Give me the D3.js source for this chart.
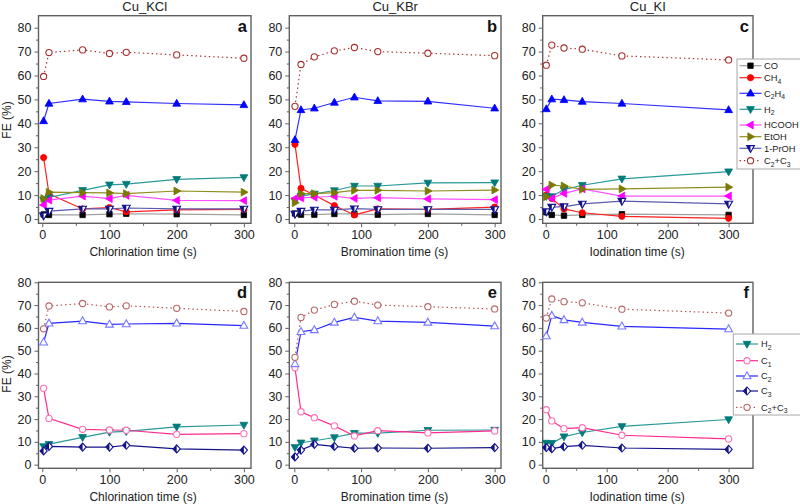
<!DOCTYPE html>
<html><head><meta charset="utf-8">
<script src="https://cdn.jsdelivr.net/npm/d3@7"></script>
<style>body{margin:0;background:#fff}svg{display:block;font-family:"Liberation Sans",Arial,sans-serif}</style>
</head><body><svg id="chart" width="800" height="504"></svg>
<script>
// ---------- data ----------
const panelTitles = ["Cu_KCl", "Cu_KBr", "Cu_KI"];
const xTitles = ["Chlorination time (s)", "Bromination time (s)", "Iodination time (s)"];
const letters = [["a","b","c"],["d","e","f"]];
const xTicks = [0, 100, 200, 300];
const yTicks = [0, 10, 20, 30, 40, 50, 60, 70, 80];

const timeKCl = [2, 10, 60, 100, 125, 200, 300];
const timeKBr = [1, 10, 30, 60, 90, 125, 200, 300];
const timeKI  = [1, 10, 30, 60, 125, 300];

// Cu_KCl
const CO_KCl    = [1.9, 1.7, 1.7, 2.0, 2.2, 2.0, 1.7];
const CH4_KCl   = [25.7, 10.5, 4.2, 4.8, 3.0, 3.8, 4.0];
const C2H4_KCl  = [41.0, 48.3, 50.1, 49.2, 49.0, 48.3, 47.7];
const H2_KCl    = [8.0, 9.0, 12.0, 14.3, 14.6, 16.6, 17.4];
const HCOOH_KCl = [5.9, 7.9, 9.6, 8.5, 9.9, 7.8, 7.7];
const EtOH_KCl  = [8.6, 11.2, 11.0, 10.9, 10.6, 11.7, 11.2];
const PrOH_KCl  = [1.4, 3.3, 4.2, 4.2, 4.6, 4.2, 4.2];
const C2C3_KCl  = [59.6, 69.6, 70.7, 69.2, 69.7, 68.6, 67.2];
const C1_KCl    = [33.5, 20.3, 15.5, 15.2, 15.1, 13.3, 13.6];
const C2_KCl    = [53.7, 62.0, 63.0, 61.5, 61.7, 62.0, 61.0];
const C3_KCl    = [6.0, 8.0, 7.7, 7.7, 8.5, 6.9, 6.4];

// Cu_KBr
const CO_KBr    = [2.3, 1.8, 1.8, 2.1, 2.1, 1.8, 2.1, 1.7];
const CH4_KBr   = [31.2, 12.8, 10.0, 5.6, 1.7, 4.2, 4.0, 5.0];
const C2H4_KBr  = [33.1, 45.6, 46.3, 48.7, 50.9, 49.4, 49.2, 46.3];
const H2_KBr    = [7.6, 9.6, 10.5, 11.9, 13.8, 13.8, 15.1, 15.2];
const HCOOH_KBr = [8.6, 8.8, 9.1, 9.5, 8.6, 8.9, 8.4, 8.1];
const EtOH_KBr  = [6.8, 10.6, 10.6, 11.0, 12.0, 12.0, 11.7, 12.1];
const PrOH_KBr  = [2.1, 3.3, 3.8, 3.8, 4.3, 4.0, 4.0, 4.0];
const C2C3_KBr  = [47.1, 64.6, 67.8, 70.3, 71.7, 70.0, 69.3, 68.3];
const C1_KBr    = [42.5, 23.2, 20.6, 17.0, 12.6, 14.9, 13.9, 14.8];
const C2_KBr    = [44.2, 58.3, 59.1, 62.4, 64.6, 63.0, 62.4, 60.8];
const C3_KBr    = [3.4, 6.4, 8.9, 8.0, 7.2, 7.3, 7.2, 7.5];

// Cu_KI
const CO_KI    = [2.8, 1.7, 1.4, 1.7, 2.0, 1.7];
const CH4_KI   = [10.0, 8.6, 4.2, 2.6, 1.1, 0.3];
const C2H4_KI  = [46.0, 50.1, 49.8, 49.1, 48.3, 45.6];
const H2_KI    = [9.5, 9.4, 12.3, 14.1, 16.8, 19.8];
const HCOOH_KI = [12.4, 8.6, 10.7, 12.6, 9.6, 9.6];
const EtOH_KI  = [9.3, 14.2, 13.8, 12.4, 12.6, 13.3];
const PrOH_KI  = [3.1, 5.0, 5.2, 6.3, 7.5, 6.3];
const C2C3_KI  = [64.3, 72.7, 71.5, 71.0, 68.2, 66.5];
const C1_KI    = [24.1, 19.2, 15.8, 16.2, 12.9, 11.3];
const C2_KI    = [56.4, 65.4, 63.5, 62.4, 60.7, 59.5];
const C3_KI    = [7.5, 7.0, 7.9, 8.5, 7.3, 6.7];

// ---------- series styles ----------
const topSeries = [
  {label:[["CO"]], vals:[CO_KCl,CO_KBr,CO_KI], line:"#a0a0a0", shape:"square", stroke:"#000", fill:"#000"},
  {label:[["CH"],["4",1]], vals:[CH4_KCl,CH4_KBr,CH4_KI], line:"#ff2020", shape:"circle", stroke:"#ff0000", fill:"#ff0000"},
  {label:[["C"],["2",1],["H"],["4",1]], vals:[C2H4_KCl,C2H4_KBr,C2H4_KI], line:"#3030ff", shape:"up", stroke:"#0000ff", fill:"#0000ff"},
  {label:[["H"],["2",1]], vals:[H2_KCl,H2_KBr,H2_KI], line:"#2a9898", shape:"down", stroke:"#007a7a", fill:"#007a7a"},
  {label:[["HCOOH"]], vals:[HCOOH_KCl,HCOOH_KBr,HCOOH_KI], line:"#ff50ff", shape:"left", stroke:"#ff00ff", fill:"#ff00ff"},
  {label:[["EtOH"]], vals:[EtOH_KCl,EtOH_KBr,EtOH_KI], line:"#8f8f20", shape:"right", stroke:"#7a7a00", fill:"#7a7a00"},
  {label:[["1-PrOH"]], vals:[PrOH_KCl,PrOH_KBr,PrOH_KI], line:"#5a5ab0", shape:"down", stroke:"#10108a", fill:"#ffffff", half:true},
  {label:[["C"],["2",1],["+C"],["3",1]], vals:[C2C3_KCl,C2C3_KBr,C2C3_KI], line:"#a83030", shape:"circle", stroke:"#a83030", fill:"#ffffff", dash:"1.4,3"}
];
const botSeries = [
  {label:[["H"],["2",1]], vals:[H2_KCl,H2_KBr,H2_KI], line:"#2a9898", shape:"down", stroke:"#007a7a", fill:"#007a7a"},
  {label:[["C"],["1",1]], vals:[C1_KCl,C1_KBr,C1_KI], line:"#ff2a90", shape:"circle", stroke:"#ff70b8", fill:"#ffffff"},
  {label:[["C"],["2",1]], vals:[C2_KCl,C2_KBr,C2_KI], line:"#2828ff", shape:"up", stroke:"#7878ff", fill:"#ffffff"},
  {label:[["C"],["3",1]], vals:[C3_KCl,C3_KBr,C3_KI], line:"#14148a", shape:"diamond", stroke:"#14148a", fill:"#ffffff", half:true},
  {label:[["C"],["2",1],["+C"],["3",1]], vals:[C2C3_KCl,C2C3_KBr,C2C3_KI], line:"#b05050", shape:"circle", stroke:"#b86868", fill:"#ffffff", dash:"1.4,3"}
];

// ---------- layout ----------
const times = [timeKCl, timeKBr, timeKI];
const colFrames = [[38.5, 251], [289.3, 501], [542.7, 753]];
const xDomains = [[-5.6, 310.6], [-7.5, 309.5], [-4.9, 340]];
const rowY = [
  d3.scaleLinear([-1.8, 85], [223.3, 15.7]),
  d3.scaleLinear([-1.6, 80], [468.3, 282.3])
];

const svg = d3.select("#chart");
const frameColor = "#606060";

function markerPath(shape) {
  const p = d3.path();
  if (shape === "square") { p.rect(-2.7, -2.7, 5.4, 5.4); }
  else if (shape === "circle") { p.arc(0, 0, 3.1, 0, 2 * Math.PI); }
  else if (shape === "up") { p.moveTo(0, -4.2); p.lineTo(3.9, 2.7); p.lineTo(-3.9, 2.7); p.closePath(); }
  else if (shape === "down") { p.moveTo(0, 4.2); p.lineTo(3.9, -2.7); p.lineTo(-3.9, -2.7); p.closePath(); }
  else if (shape === "left") { p.moveTo(-4.2, 0); p.lineTo(2.7, -3.9); p.lineTo(2.7, 3.9); p.closePath(); }
  else if (shape === "right") { p.moveTo(4.2, 0); p.lineTo(-2.7, -3.9); p.lineTo(-2.7, 3.9); p.closePath(); }
  else if (shape === "diamond") { p.moveTo(0, -4); p.lineTo(3.6, 0); p.lineTo(0, 4); p.lineTo(-3.6, 0); p.closePath(); }
  return p.toString();
}
function halfPath(shape) {
  const p = d3.path();
  if (shape === "diamond") { p.moveTo(0, -4); p.lineTo(0, 4); p.lineTo(-3.6, 0); p.closePath(); }
  else if (shape === "down") { p.moveTo(0, 4.2); p.lineTo(0, -2.7); p.lineTo(-3.9, -2.7); p.closePath(); }
  return p.toString();
}
function drawMarker(g, s, x, y) {
  const m = g.append("g").attr("transform", `translate(${x},${y})`);
  m.append("path").attr("d", markerPath(s.shape)).attr("fill", s.fill)
    .attr("stroke", s.stroke).attr("stroke-width", s.fill === "#ffffff" ? 1.1 : 0.8);
  if (s.half) m.append("path").attr("d", halfPath(s.shape)).attr("fill", s.stroke);
}
function writeLabel(t, parts, subSize) {
  parts.forEach(pp => {
    const ts = t.append("tspan").text(pp[0]);
    if (pp[1]) ts.attr("font-size", subSize).attr("dy", 2.5);
    else if (t.selectAll("tspan").size() > 1) ts.attr("dy", -2.5);
  });
}

for (let row = 0; row < 2; row++) {
  const y = rowY[row];
  const series = row === 0 ? topSeries : botSeries;
  for (let col = 0; col < 3; col++) {
    const [fx0, fx1] = colFrames[col];
    const x = d3.scaleLinear(xDomains[col], [fx0, fx1]);
    const [fy1, fy0] = y.range();
    const g = svg.append("g");

    // axes
    g.append("g").attr("transform", `translate(0,${fy1})`)
      .call(d3.axisBottom(x).tickValues(xTicks).tickSize(4).tickSizeOuter(0).tickPadding(3));
    g.append("g").attr("transform", `translate(0,${fy1})`)
      .call(d3.axisBottom(x).tickValues([50, 150, 250]).tickSize(2.5).tickSizeOuter(0).tickFormat(""));
    g.append("g").attr("transform", `translate(${fx0},0)`)
      .call(d3.axisLeft(y).tickValues(yTicks).tickSize(4).tickSizeOuter(0).tickPadding(3));
    g.append("g").attr("transform", `translate(${fx0},0)`)
      .call(d3.axisLeft(y).tickValues([5, 15, 25, 35, 45, 55, 65, 75]).tickSize(2.5).tickSizeOuter(0).tickFormat(""));
    g.selectAll(".domain").remove();
    g.selectAll(".tick line").attr("stroke", frameColor).attr("stroke-width", 1);
    g.selectAll(".tick text").attr("font-size", 12.5).attr("fill", "#222")
      .attr("font-family", "'Liberation Sans', Arial, sans-serif");

    // frame
    g.append("rect").attr("x", fx0).attr("y", fy0).attr("width", fx1 - fx0).attr("height", fy1 - fy0)
      .attr("fill", "none").attr("stroke", frameColor).attr("stroke-width", 1.4);

    // series
    const t = times[col];
    series.forEach(s => {
      const vals = s.vals[col];
      const pts = t.map((tv, i) => [x(tv), y(vals[i])]);
      g.append("path").attr("d", d3.line()(pts)).attr("fill", "none")
        .attr("stroke", s.line).attr("stroke-width", 1.2)
        .attr("stroke-dasharray", s.dash || null);
    });
    series.forEach(s => {
      const vals = s.vals[col];
      t.forEach((tv, i) => drawMarker(g, s, x(tv), y(vals[i])));
    });

    // panel letter
    g.append("text").attr("x", fx1 - 4).attr("y", fy0 + 16).attr("text-anchor", "end")
      .attr("font-size", 16.5).attr("font-weight", "bold").attr("fill", "#111").text(letters[row][col]);

    // x title
    g.append("text").attr("x", x(150)).attr("y", row === 0 ? 256 : 501).attr("text-anchor", "middle")
      .attr("font-size", 12).attr("fill", "#222").text(xTitles[col]);

    if (row === 0) {
      g.append("text").attr("x", (fx0 + fx1) / 2).attr("y", 11).attr("text-anchor", "middle")
        .attr("font-size", 13).attr("fill", "#222").text(panelTitles[col]);
    }
    if (col === 0) {
      g.append("text").attr("transform", `translate(11,${row === 0 ? 120 : 374}) rotate(-90)`)
        .attr("text-anchor", "middle").attr("font-size", 12).attr("fill", "#222").text("FE (%)");
    }
  }
}

// ---------- legends ----------
function legend(series, bx, by, bw, bh, rows, lx0, lx1, tx) {
  const g = svg.append("g");
  g.append("rect").attr("x", bx).attr("y", by).attr("width", bw).attr("height", bh)
    .attr("fill", "#fff").attr("stroke", "#a8a8a8").attr("stroke-width", 1);
  series.forEach((s, i) => {
    const yy = rows[i];
    g.append("line").attr("x1", lx0).attr("x2", lx1).attr("y1", yy).attr("y2", yy)
      .attr("stroke", s.line).attr("stroke-width", 1.2).attr("stroke-dasharray", s.dash || null);
    drawMarker(g, s, (lx0 + lx1) / 2, yy);
    const t = g.append("text").attr("x", tx).attr("y", yy + 3.4).attr("font-size", 9.3).attr("fill", "#222");
    writeLabel(t, s.label, 6.8);
  });
}
legend(topSeries, 737, 59, 80, 110, [65.7, 77.7, 93.3, 109.3, 125, 136.7, 148.3, 160.7], 739.5, 761.5, 764);
legend(botSeries, 733.3, 334, 80, 81, [344, 360.7, 376, 391, 407.3], 736, 758, 761);
</script></body></html>
